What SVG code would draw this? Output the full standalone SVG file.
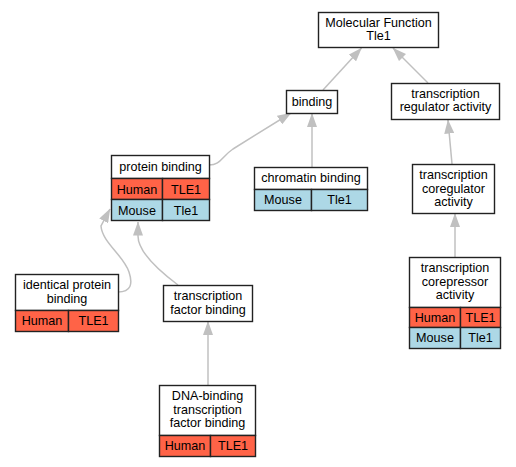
<svg xmlns="http://www.w3.org/2000/svg" width="516" height="467" viewBox="0 0 516 467">
<style>
.b{fill:#fff;stroke:#222;stroke-width:1.4}
.h{fill:#ff6347;stroke:#222;stroke-width:1.4}
.m{fill:#add8e6;stroke:#222;stroke-width:1.4}
text{font-family:"Liberation Sans",Arial,sans-serif;font-size:12.6px;fill:#000;text-anchor:middle}
.e{fill:none;stroke:#c0c0c0;stroke-width:1.5}
</style>
<defs>
<marker id="a" markerUnits="userSpaceOnUse" markerWidth="14" markerHeight="10" refX="13.5" refY="5" orient="auto" viewBox="0 0 14 10">
<path d="M0,0 L14,5 L0,10 Z" fill="#c0c0c0"/>
</marker>
</defs>
<rect width="516" height="467" fill="#fff"/>
<g id="edges">
<path class="e" d="M323,90 L361.5,48" marker-end="url(#a)"/>
<path class="e" d="M428,83 L393,48" marker-end="url(#a)"/>
<path class="e" d="M312,167 L312,113.5" marker-end="url(#a)"/>
<path class="e" d="M209,165 C221,165 221,157 233,149 L291,113" marker-end="url(#a)"/>
<path class="e" d="M452,164 L448,120" marker-end="url(#a)"/>
<path class="e" d="M455,257 L455,213.5" marker-end="url(#a)"/>
<path class="e" d="M118,292 C131,292 133,284 129,272 C124,256 102,242 101,226 L110,209" marker-end="url(#a)"/>
<path class="e" d="M178,285 C158,270 138,252 138,236 L138,222" marker-end="url(#a)"/>
<path class="e" d="M208,385 L208,321.5" marker-end="url(#a)"/>
</g>
<g id="molecular_function">
<rect class="b" x="318.5" y="12.5" width="120" height="35"/>
<text x="378.5" y="26.5">Molecular Function</text>
<text x="378.5" y="40">Tle1</text>
</g>
<g id="binding">
<rect class="b" x="286.5" y="90.5" width="51" height="23"/>
<text x="312" y="106">binding</text>
</g>
<g id="transcription_regulator_activity">
<rect class="b" x="391.5" y="83.5" width="108" height="36"/>
<text x="445.5" y="97.5">transcription</text>
<text x="445.5" y="111">regulator activity</text>
</g>
<g id="protein_binding">
<rect class="b" x="111.5" y="155.5" width="98" height="23"/>
<rect class="h" x="111.5" y="178.5" width="51" height="21"/>
<rect class="h" x="162.5" y="178.5" width="47" height="21"/>
<rect class="m" x="111.5" y="199.5" width="51" height="21"/>
<rect class="m" x="162.5" y="199.5" width="47" height="21"/>
<text x="160.5" y="170.5">protein binding</text>
<text x="137" y="193.5">Human</text>
<text x="186" y="193.5">TLE1</text>
<text x="137" y="214.5">Mouse</text>
<text x="186" y="214.5">Tle1</text>
</g>
<g id="chromatin_binding">
<rect class="b" x="254.5" y="167.5" width="113" height="22"/>
<rect class="m" x="254.5" y="189.5" width="57" height="21"/>
<rect class="m" x="311.5" y="189.5" width="56" height="21"/>
<text x="311" y="182">chromatin binding</text>
<text x="283" y="204">Mouse</text>
<text x="339.5" y="204">Tle1</text>
</g>
<g id="transcription_coregulator_activity">
<rect class="b" x="412.5" y="164.5" width="82" height="49"/>
<text x="453.5" y="179">transcription</text>
<text x="453.5" y="192.5">coregulator</text>
<text x="453.5" y="206">activity</text>
</g>
<g id="identical_protein_binding">
<rect class="b" x="15.5" y="274.5" width="103" height="36"/>
<rect class="h" x="15.5" y="310.5" width="53" height="21"/>
<rect class="h" x="68.5" y="310.5" width="50" height="21"/>
<text x="67" y="289">identical protein</text>
<text x="67" y="302.5">binding</text>
<text x="42" y="325">Human</text>
<text x="93.5" y="325">TLE1</text>
</g>
<g id="transcription_factor_binding">
<rect class="b" x="163.5" y="285.5" width="89" height="36"/>
<text x="208" y="300">transcription</text>
<text x="208" y="313.5">factor binding</text>
</g>
<g id="transcription_corepressor_activity">
<rect class="b" x="409.5" y="257.5" width="91" height="50"/>
<rect class="h" x="409.5" y="307.5" width="51" height="20"/>
<rect class="h" x="460.5" y="307.5" width="40" height="20"/>
<rect class="m" x="409.5" y="327.5" width="51" height="21"/>
<rect class="m" x="460.5" y="327.5" width="40" height="21"/>
<text x="455" y="272">transcription</text>
<text x="455" y="285.5">corepressor</text>
<text x="455" y="299">activity</text>
<text x="435" y="321.5">Human</text>
<text x="480.5" y="321.5">TLE1</text>
<text x="435" y="342">Mouse</text>
<text x="480.5" y="342">Tle1</text>
</g>
<g id="dna_binding_transcription_factor_binding">
<rect class="b" x="159.5" y="385.5" width="96" height="50"/>
<rect class="h" x="159.5" y="435.5" width="51" height="21"/>
<rect class="h" x="210.5" y="435.5" width="45" height="21"/>
<text x="207.5" y="400">DNA-binding</text>
<text x="207.5" y="413.5">transcription</text>
<text x="207.5" y="427">factor binding</text>
<text x="185" y="450">Human</text>
<text x="233" y="450">TLE1</text>
</g>
</svg>
